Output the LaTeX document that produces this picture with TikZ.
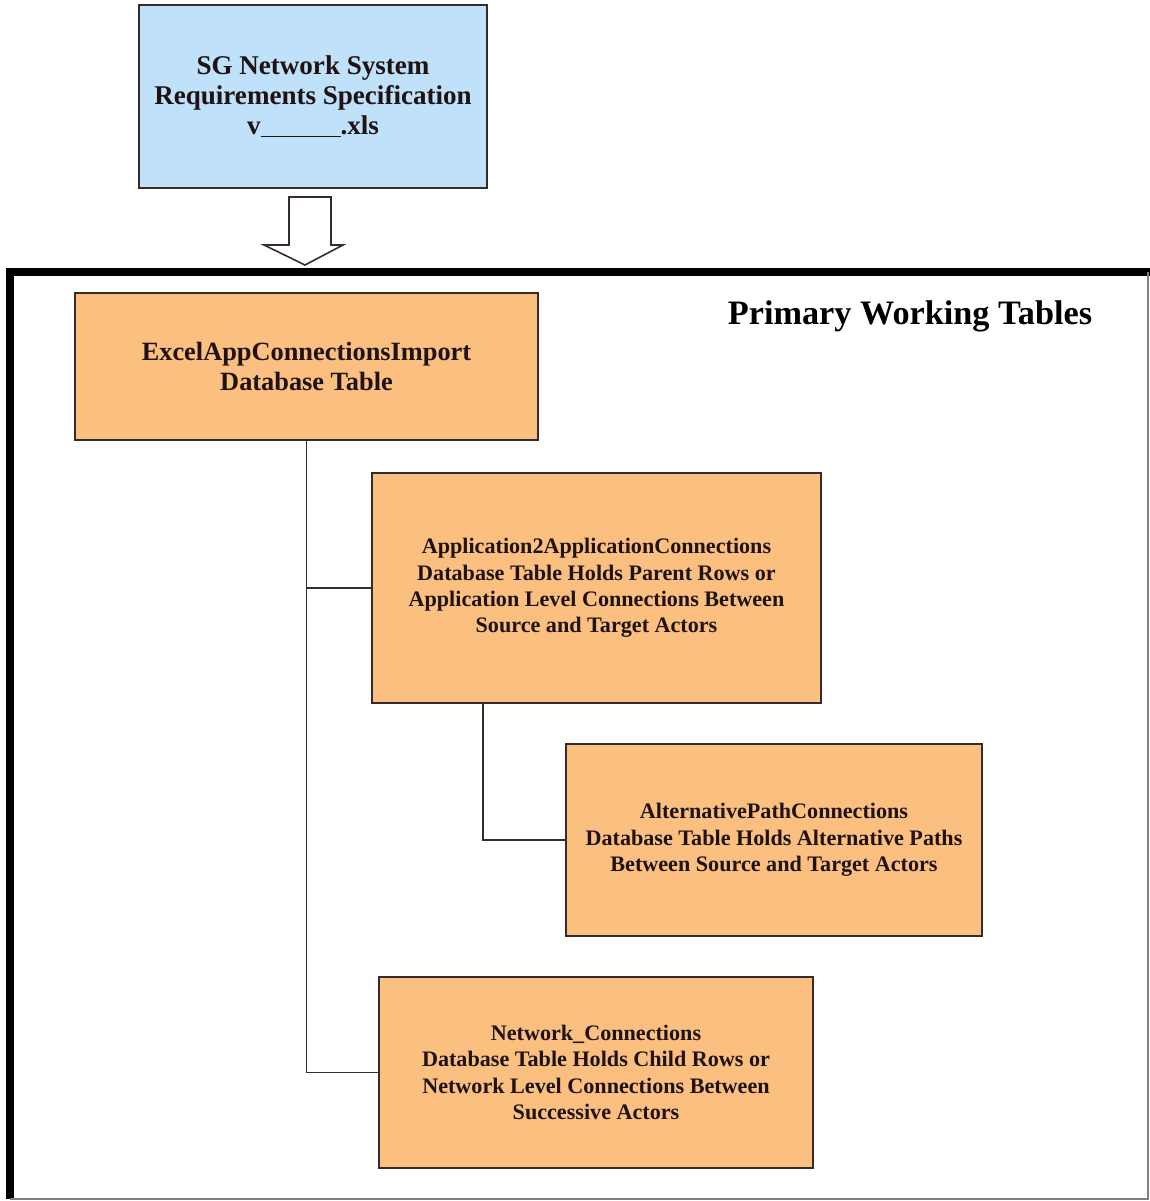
\documentclass[tikz,border=0pt]{standalone}
\usepackage{fontspec}
\setmainfont{Liberation Serif}
\definecolor{specblue}{RGB}{191, 225, 250}
\definecolor{tableorange}{RGB}{251, 191, 128}
\definecolor{edgegray}{RGB}{55, 42, 42}
\definecolor{textdark}{RGB}{30, 18, 18}
\usepackage{tikz}
\usetikzlibrary{positioning, calc}

\begin{document}
\begin{tikzpicture}[x=0.02cm, y=-0.02cm,
    tablebox/.style={draw=edgegray, line width=0.9pt, fill=tableorange, align=center,
      text=textdark, font=\bfseries\fontsize{12.6}{15}\selectfont},
    link/.style={draw=edgegray, line width=1.1pt}]
  \useasboundingbox (0,0) rectangle (1150,1201);

  % Source spreadsheet
  \node[draw=edgegray, line width=0.9pt, fill=specblue, minimum width=6.96cm, minimum height=3.66cm,
        align=center, text=textdark, font=\bfseries\fontsize{15.4}{16.9}\selectfont] (spec) at (313, 96.5) {
    SG Network System\\
    Requirements Specification\\
    v\rule[-1.5pt]{1.6cm}{0.7pt}.xls
  };

  % Hollow import arrow
  \draw[edgegray, line width=0.9pt, fill=white]
    (289,197) -- (331,197) -- (331,245) -- (343,245) -- (305,265) -- (264,245) -- (289,245) -- cycle;

  % Frame of the working tables
  \draw[black, line width=4.2pt] (10,1199) -- (10,272) -- (1150,272);
  \draw[gray, line width=0.8pt] (1148,272) -- (1148,1199) -- (10,1199);
  \node[font=\bfseries\fontsize{19.5}{22}\selectfont, text=black] (title) at (910, 316) {Primary Working Tables};

  % Tables
  \node[tablebox, minimum width=9.26cm, minimum height=2.94cm, font=\bfseries\fontsize{15}{16.6}\selectfont] (excel) at (306.5, 366.5) {
    ExcelAppConnectionsImport\\
    Database Table
  };
  \node[tablebox, minimum width=8.98cm, minimum height=4.6cm] (apptoapp) at (596.5, 588) {
    Application2ApplicationConnections\\
    Database Table Holds Parent Rows or\\
    Application Level Connections Between\\
    Source and Target Actors
  };
  \node[tablebox, minimum width=8.32cm, minimum height=3.84cm] (altpath) at (774, 840) {
    AlternativePathConnections\\
    Database Table Holds Alternative Paths\\
    Between Source and Target Actors
  };
  \node[tablebox, minimum width=8.68cm, minimum height=3.82cm] (netconn) at (596, 1072.5) {
    Network\_Connections\\
    Database Table Holds Child Rows or\\
    Network Level Connections Between\\
    Successive Actors
  };

  % Tree links
  \draw[link] (excel.south) |- (netconn.west);
  \draw[link] (excel.south |- apptoapp.west) -- (apptoapp.west);
  \coordinate (appfoot) at ($(apptoapp.south west)+(112,0)$);
  \draw[link] (appfoot) |- (altpath.west);
\end{tikzpicture}
\end{document}
